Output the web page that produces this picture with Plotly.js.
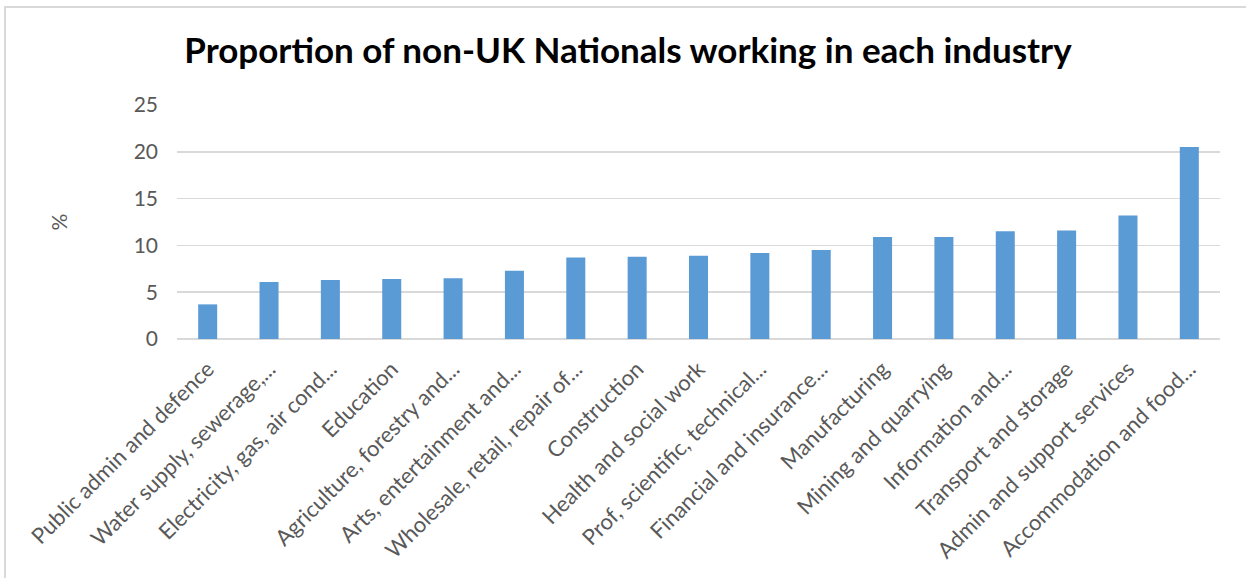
<!DOCTYPE html>
<html>
<head>
<meta charset="utf-8">
<script src="https://cdn.plot.ly/plotly-3.0.1.min.js"></script>
<style>
  html, body { margin: 0; padding: 0; background: #fff; }
  #wrap { position: relative; width: 1246px; height: 578px; }
  #chart { width: 1246px; height: 578px; }
  #frame { position: absolute; left: 4px; top: 6px; width: 1242px; height: 572px;
           border-top: 2px solid #d9d9d9; border-left: 2px solid #d9d9d9;
           box-sizing: border-box; pointer-events: none; }
</style>
</head>
<body>
<div id="wrap">
  <div id="chart"></div>
  <div id="frame"></div>
</div>
<script>
const industries = [
  "Public admin and defence",
  "Water supply, sewerage,...",
  "Electricity, gas, air cond...",
  "Education",
  "Agriculture, forestry and...",
  "Arts, entertainment and...",
  "Wholesale, retail, repair of...",
  "Construction",
  "Health and social work",
  "Prof, scientific, technical...",
  "Financial and insurance...",
  "Manufacturing",
  "Mining and quarrying",
  "Information and...",
  "Transport and storage",
  "Admin and support services",
  "Accommodation and food..."
];
const percentNonUK = [3.7, 6.1, 6.3, 6.4, 6.5, 7.3, 8.7, 8.8, 8.9, 9.2, 9.5, 10.9, 10.9, 11.5, 11.6, 13.2, 20.5];
const yTicks = [0, 5, 10, 15, 20, 25];

const FONT = "Lato, 'Open Sans', sans-serif";
const GREY = "#595959";

const data = [{
  type: "bar",
  x: industries,
  y: percentNonUK,
  marker: { color: "#5B9BD5" },
  hoverinfo: "x+y"
}];

const layout = {
  width: 1246,
  height: 578,
  margin: { l: 177, r: 26, t: 105, b: 239 },
  paper_bgcolor: "#ffffff",
  plot_bgcolor: "#ffffff",
  bargap: 0.69,
  showlegend: false,
  font: { family: FONT, color: GREY },
  title: {
    text: "<b>Proportion of non-UK Nationals working in each industry</b>",
    font: { family: FONT, size: 35, color: "#000000" },
    x: 0.504, xref: "container", xanchor: "center",
    y: 0.912, yref: "container", yanchor: "middle"
  },
  xaxis: {
    type: "category",
    tickangle: -45,
    tickfont: { family: FONT, size: 22, color: GREY },
    ticklabelstandoff: 12,
    showgrid: false,
    showline: false,
    ticks: "",
    zeroline: false
  },
  yaxis: {
    range: [0, 25],
    tickvals: yTicks,
    ticktext: yTicks.map(String),
    tickfont: { family: FONT, size: 21, color: GREY },
    ticklabelstandoff: 18,
    showgrid: true,
    gridcolor: "#d9d9d9",
    gridwidth: 1.5,
    zeroline: true,
    zerolinecolor: "#d9d9d9",
    zerolinewidth: 1.5,
    showline: false,
    ticks: "",
    title: {
      text: "%",
      font: { family: FONT, size: 21, color: GREY },
      standoff: 60
    }
  }
};

Plotly.newPlot("chart", data, layout, { staticPlot: true, displayModeBar: false });
</script>
</body>
</html>
